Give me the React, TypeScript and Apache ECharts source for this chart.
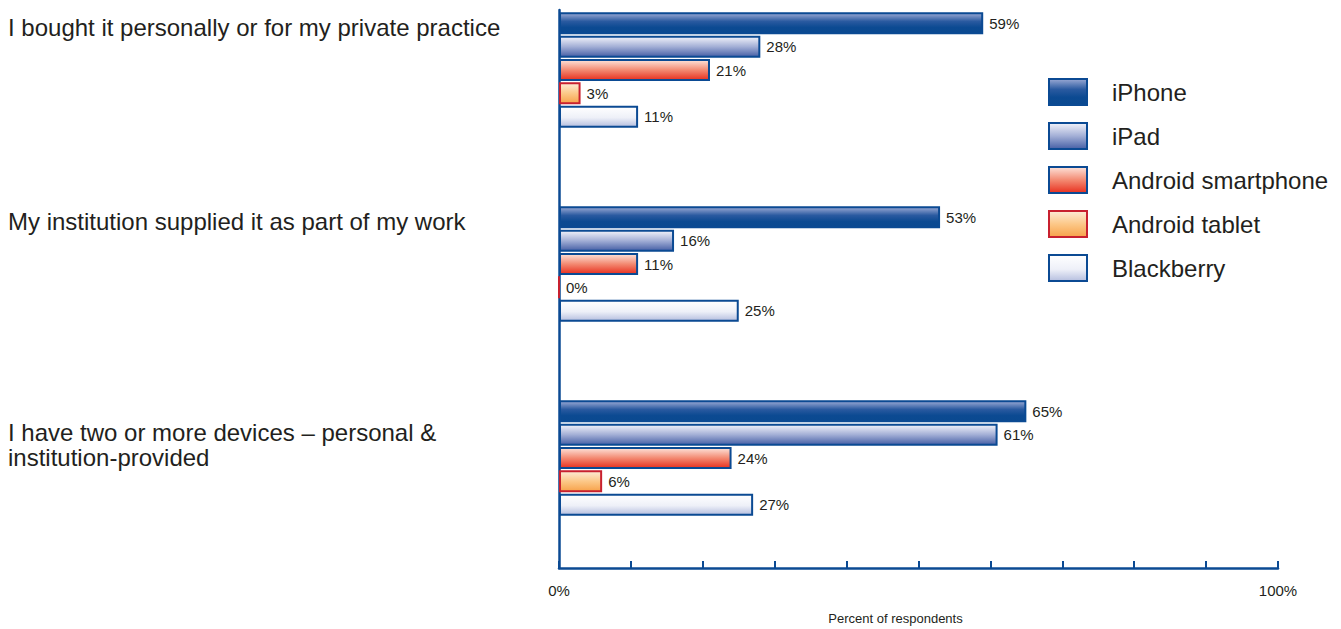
import React, { useEffect, useRef } from 'react';
import * as echarts from 'echarts';

const categories = [
  'I bought it personally or for my private practice',
  'My institution supplied it as part of my work',
  'I have two or more devices – personal &\ninstitution-provided',
];
const seriesNames = ['iPhone', 'iPad', 'Android smartphone', 'Android tablet', 'Blackberry'];
const iPhone = [59, 53, 65];
const iPad = [28, 16, 61];
const androidSmartphone = [21, 11, 24];
const androidTablet = [3, 0, 6];
const blackberry = [11, 25, 27];
const axisEndLabels = ['0%', '100%'];
const axisName = 'Percent of respondents';

const FONT = '"Liberation Sans", Arial, Helvetica, sans-serif';
const TEXT = '#231f20';
const BLUE = '#0b4a93';

const grad = (stops: [number, string][]) =>
  new echarts.graphic.LinearGradient(0, 0, 0, 1, stops.map(([offset, color]) => ({ offset, color })));

const styles = [
  { fill: grad([[0, '#9aa9d4'], [0.4, '#2a5aa0'], [0.7, '#0c4a92'], [1, '#0a4990']]), border: BLUE },
  { fill: grad([[0, '#f2f3fa'], [0.5, '#a3afd6'], [1, '#4760a6']]), border: BLUE },
  { fill: grad([[0, '#fde3da'], [0.5, '#f38a72'], [1, '#e8301f']]), border: BLUE },
  { fill: grad([[0, '#fdebd6'], [0.5, '#fcc888'], [1, '#f7a24a']]), border: '#c8202f' },
  { fill: grad([[0, '#ffffff'], [0.55, '#eef0f8'], [1, '#b6bfdf']]), border: BLUE },
];

const dataSets = [iPhone, iPad, androidSmartphone, androidTablet, blackberry];

export default function App() {
  const ref = useRef<HTMLDivElement>(null);
  useEffect(() => {
    if (!ref.current) return;
    const chart = echarts.init(ref.current, undefined, { renderer: 'svg' });
    chart.setOption({
      animation: false,
      textStyle: { fontFamily: FONT, color: TEXT },
      legend: {
        orient: 'vertical',
        left: 1043,
        top: 73,
        itemWidth: 38,
        itemHeight: 26,
        itemGap: 16,
        icon: 'rect',
        data: seriesNames,
        textStyle: { fontSize: 24, color: TEXT, fontFamily: FONT, padding: [0, 0, 0, 20], lineHeight: 26 },
      },
      grid: [
        { left: 559, right: 63, top: -27, bottom: 74, outerBoundsMode: 'none', containLabel: false },
        { left: 559, right: 63, top: 10, bottom: 61, outerBoundsMode: 'none', containLabel: false },
      ],
      xAxis: [
        { gridIndex: 0, type: 'value', min: 0, max: 100, show: false },
        {
          gridIndex: 1,
          type: 'value',
          min: 0,
          max: 100,
          interval: 10,
          axisLine: { show: true, lineStyle: { color: BLUE, width: 2.5 } },
          axisTick: { show: true, inside: true, length: 7, lineStyle: { color: BLUE, width: 2 } },
          splitLine: { show: false },
          axisLabel: {
            margin: 15,
            fontSize: 15,
            color: TEXT,
            fontFamily: FONT,
            formatter: (v: number) => (v === 0 ? axisEndLabels[0] : v === 100 ? axisEndLabels[1] : ''),
          },
          name: axisName,
          nameLocation: 'middle',
          nameGap: 44,
          nameTextStyle: { fontSize: 13, color: TEXT, fontFamily: FONT, padding: [0, 46, 0, 0] },
        },
      ],
      yAxis: [
        {
          gridIndex: 0,
          type: 'category',
          inverse: true,
          data: categories,
          axisLine: { show: false },
          axisTick: { show: false },
          axisLabel: {
            align: 'left',
            margin: 551,
            fontSize: 24,
            lineHeight: 25,
            color: TEXT,
            fontFamily: FONT,
            padding: [0, 0, 26, 0],
            formatter: (v: string) => (v.indexOf('\n') >= 0 ? v : `{a|${v}}`),
            rich: {
              a: { fontSize: 24, lineHeight: 25, color: TEXT, fontFamily: FONT, padding: [0, 0, 60, 0] },
            },
          },
        },
        {
          gridIndex: 1,
          type: 'value',
          axisLine: { show: true, lineStyle: { color: BLUE, width: 2.5 } },
          axisTick: { show: false },
          axisLabel: { show: false },
          splitLine: { show: false },
        },
      ],
      series: seriesNames.map((name, k) => ({
        name,
        type: 'bar',
        xAxisIndex: 0,
        yAxisIndex: 0,
        data: dataSets[k],
        barWidth: 22,
        barGap: '6%',
        itemStyle: { color: styles[k].fill, borderColor: styles[k].border, borderWidth: 2 },
        label: {
          show: true,
          position: 'right',
          distance: 6,
          formatter: '{c}%',
          fontSize: 15,
          color: TEXT,
          fontFamily: FONT,
        },
      })),
    });
    return () => chart.dispose();
  }, []);
  return <div ref={ref} style={{ width: 1341, height: 629, position: 'absolute', left: 0, top: 0 }} />;
}
